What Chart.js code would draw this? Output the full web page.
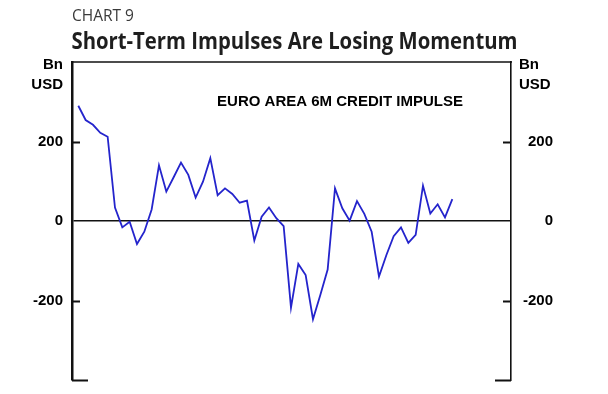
<!DOCTYPE html>
<html>
<head>
<meta charset="utf-8">
<script src="https://cdn.jsdelivr.net/npm/chart.js@4/dist/chart.umd.min.js"></script>
<style>
  html, body { margin: 0; padding: 0; background: #fff; }
  #wrap { width: 608px; height: 394px; }
</style>
</head>
<body>
<div id="wrap"><canvas id="myChart" width="608" height="394"></canvas></div>
<script>
// monthly observations, oldest first
let periods = [];
for (let i = 0; i < 52; i++) periods.push(i);

let impulse = [
    290, 254, 242, 222, 212, 34, -16, -2, -58, -27,
    29, 140, 74, 110, 147, 116, 59, 99, 158, 65,
    82, 68, 46, 51, -49, 11, 34, 7, -13, -218,
    -108, -136, -247, -186, -122, 82, 32, 1, 50, 18,
    -27, -140, -86, -38, -16, -55, -35, 89, 19, 42,
    9, 55
];

let yTicks = [-400, -200, 0, 200, 400];
let shownTicks = [-200, 0, 200];

let chartTitle = 'Short-Term Impulses Are Losing Momentum';
let chartNumber = 'CHART 9';
let seriesLabel = 'EURO AREA 6M CREDIT IMPULSE';
let unitLines = ['Bn', 'USD'];

const lblFont = 'bold 15px "Liberation Sans", Arial, sans-serif';

// frame, inward tick marks, titles and unit labels
const decor = {
    id: 'decor',
    afterDraw(chart) {
        const ctx = chart.ctx;
        const a = chart.chartArea;
        const y = chart.scales.y;
        ctx.save();
        ctx.strokeStyle = '#111';

        // top frame line
        ctx.lineWidth = 1.5;
        ctx.beginPath();
        ctx.moveTo(a.left - 1, a.top);
        ctx.lineTo(a.right + 1, a.top);
        ctx.stroke();

        // inward ticks (zero is covered by the zero line)
        yTicks.forEach(v => {
            if (v === 400 || v === 0) return;
            const py = Math.round(y.getPixelForValue(v)) + 0.5;
            const len = v === -400 ? 16 : 8;
            ctx.lineWidth = 2;
            ctx.beginPath();
            ctx.moveTo(a.left, py);
            ctx.lineTo(a.left + len, py);
            ctx.moveTo(a.right, py);
            ctx.lineTo(a.right - len, py);
            ctx.stroke();
        });

        // headings
        ctx.textBaseline = 'alphabetic';
        ctx.textAlign = 'left';
        ctx.fillStyle = '#3a3a3a';
        ctx.font = '15.5px "Open Sans", "Noto Sans", sans-serif';
        ctx.fillText(chartNumber, a.left, 21);
        ctx.fillStyle = '#1e1e1e';
        ctx.font = 'bold 24px "Open Sans", "Noto Sans", sans-serif';
        ctx.fillText(chartTitle, a.left - 0.5, 49, 446);

        // unit labels
        ctx.fillStyle = '#000';
        ctx.font = lblFont;
        ctx.textBaseline = 'middle';
        ctx.textAlign = 'right';
        ctx.fillText(unitLines[0], 63, 65);
        ctx.fillText(unitLines[1], 63, 85);
        ctx.textAlign = 'left';
        ctx.fillText(unitLines[0], 519, 65);
        ctx.fillText(unitLines[1], 519, 85);

        // series label
        ctx.textAlign = 'center';
        ctx.fillText(seriesLabel, 340, 102, 274);
        ctx.restore();
    }
};

let myChart = document.getElementById('myChart').getContext('2d');

let chart = new Chart(myChart, {
    type: 'line',
    data: {
        datasets: [{
            label: seriesLabel,
            data: periods.map((p, i) => ({ x: p, y: impulse[i] })),
            borderColor: 'rgb(36,36,204)',
            borderWidth: 1.8,
            pointRadius: 0,
            tension: 0,
            yAxisID: 'y'
        }]
    },
    options: {
        responsive: false,
        animation: false,
        layout: { padding: { left: 0, right: 55, top: 62, bottom: 14 } },
        plugins: {
            legend: { display: false },
            tooltip: { enabled: false }
        },
        scales: {
            x: {
                type: 'linear',
                display: false,
                min: -0.86,
                max: 59
            },
            y: {
                position: 'left',
                min: -400,
                max: 400,
                afterBuildTicks: s => { s.ticks = yTicks.map(v => ({ value: v })); },
                afterFit: s => { s.width = 72; s.paddingTop = 0; s.paddingBottom = 0; },
                border: { display: true, color: '#111', width: 2.5 },
                grid: {
                    drawTicks: false,
                    color: c => c.tick && c.tick.value === 0 ? '#111' : 'rgba(0,0,0,0)',
                    lineWidth: 1.4
                },
                ticks: {
                    padding: 9,
                    color: '#000',
                    font: { family: '"Liberation Sans", Arial, sans-serif', size: 15, weight: 'bold' },
                    callback: v => shownTicks.includes(v) ? String(v) : ''
                }
            },
            y2: {
                position: 'right',
                min: -400,
                max: 400,
                afterBuildTicks: s => { s.ticks = yTicks.map(v => ({ value: v })); },
                afterFit: s => { s.width = 42; s.paddingTop = 0; s.paddingBottom = 0; },
                border: { display: true, color: '#111', width: 1.6 },
                grid: { drawTicks: false, drawOnChartArea: false },
                ticks: {
                    crossAlign: 'far',
                    padding: 12,
                    color: '#000',
                    font: { family: '"Liberation Sans", Arial, sans-serif', size: 15, weight: 'bold' },
                    callback: v => shownTicks.includes(v) ? String(v) : ''
                }
            }
        }
    },
    plugins: [decor]
});
</script>
</body>
</html>
